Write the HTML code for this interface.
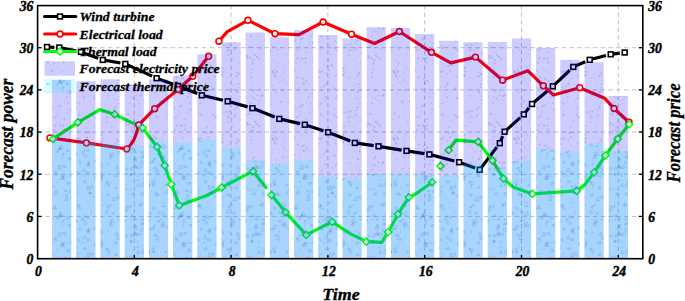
<!DOCTYPE html>
<html><head><meta charset="utf-8"><style>html,body{margin:0;padding:0;background:#fff;overflow:hidden}svg{display:block}text{font-family:"Liberation Serif",serif}</style></head>
<body><svg width="685" height="301" viewBox="0 0 685 301">
<rect width="685" height="301" fill="#fff"/>
<g stroke="#c2c2c2" stroke-width="1" stroke-dasharray="4.4 3.15" stroke-dashoffset="0.6"><line x1="134.3" y1="5.6" x2="134.3" y2="258.7"/><line x1="231.1" y1="5.6" x2="231.1" y2="258.7"/><line x1="327.9" y1="5.6" x2="327.9" y2="258.7"/><line x1="424.7" y1="5.6" x2="424.7" y2="258.7"/><line x1="521.5" y1="5.6" x2="521.5" y2="258.7"/><line x1="618.3" y1="5.6" x2="618.3" y2="258.7"/></g>
<g stroke="#c2c2c2" stroke-width="1" stroke-dasharray="4.5 3.32"><line x1="37.6" y1="216.42" x2="642.8" y2="216.42" stroke-dashoffset="0"/><line x1="37.6" y1="174.24" x2="642.8" y2="174.24" stroke-dashoffset="0"/><line x1="37.6" y1="132.06" x2="642.8" y2="132.06" stroke-dashoffset="0"/><line x1="209.6" y1="89.88" x2="642.8" y2="89.88" stroke-dashoffset="7.78"/><line x1="37.6" y1="47.7" x2="642.8" y2="47.7" stroke-dashoffset="0"/></g>
<path d="M47 47L54.4 47.3M59.3 47.5L76.1 50.92M80.9 51.9L98.2 58.22M102.8 59.9L120.48 63.04M125.3 63.9L152.14 76.16M156.6 78.2L173.29 84.23M177.9 85.9L197.24 93.51M201.8 95.3L222.93 100.19M227.7 101.3L247.68 106.88M252.4 108.2L274.75 117.09M279.3 118.9L300.02 123.61M304.8 124.7L323.44 130.78M328.1 132.3L350.25 141.09M354.8 142.9L373.65 145.6M378.5 146.3L401.66 150.11M406.5 150.9L424.56 153.66M429.4 154.4L454.36 160.96M459.1 162.2L475.1 168.1M479.7 169.8L496.85 147.11M499.8 143.2L502.71 136.22M504.6 131.7L520.16 117.68M523.8 114.4L528.97 107.85M532 104L549.07 89.48M552.8 86.3L569.74 70.27M573.3 66.9L585.2 61.75M589.7 59.8L605.96 55.54M610.7 54.3L619.84 53.12" fill="none" stroke="#000" stroke-width="3.2" stroke-linecap="butt" stroke-linejoin="round"/>

<polyline points="50,137.9 86.4,142.9 126.8,149 130.5,145 134,139.5 136.5,133 138.7,124.9 154.7,108.7 177.9,89.5 192.8,76.3 208.6,56.3" fill="none" stroke="#ff0000" stroke-width="3.2" stroke-linejoin="round" stroke-linecap="round"/>

<polyline points="218.9,41.2 227.3,31.6 247.9,20.3 275,33.7 299,34.6 323.1,22 351.5,34.2 374.5,43.5 399.4,31.5 431.5,52.3 450.8,62.9 475.5,57.1 502.6,80.2 527.8,70.7 543.3,85.8 553.5,95 579.7,87.7 604.7,98.3 614.1,108.5 629,122.2" fill="none" stroke="#ff0000" stroke-width="3.2" stroke-linejoin="round" stroke-linecap="round"/>

<polyline points="53,138.9 77.9,122.3 99.8,109.6 114.7,114.4 142.6,127.9 157,146.9 164.7,165.5 171.3,184.3 179.3,205.4 206.8,195.5 221.7,187.5 253.1,171.2 266.1,187.7" fill="none" stroke="#00ff00" stroke-width="3.2" stroke-linejoin="round" stroke-linecap="round"/>

<polyline points="271.6,195 285.6,212.3 306.3,234.9 332.2,221.8 350.5,233.9 366.3,241.6 381.7,242.3 388.2,232.1 397.9,214.2 408.8,197.3 414.8,194.5 432.2,182.3" fill="none" stroke="#00ff00" stroke-width="3.2" stroke-linejoin="round" stroke-linecap="round"/>

<polyline points="448.6,150.2 455.8,140.2 478.2,141.9 492.4,160.5 503.5,178.5 512.9,186.9 532.4,193.9 576.7,190.9 584.7,184.9 594.2,172.3 605.3,155.5 617.7,138.9 629,124.3" fill="none" stroke="#00ff00" stroke-width="3.2" stroke-linejoin="round" stroke-linecap="round"/>

<rect x="44.6" y="44.6" width="4.8" height="4.8" fill="#fff" stroke="#000" stroke-width="1.6"/><rect x="56.9" y="45.1" width="4.8" height="4.8" fill="#fff" stroke="#000" stroke-width="1.6"/><rect x="78.5" y="49.5" width="4.8" height="4.8" fill="#fff" stroke="#000" stroke-width="1.6"/><rect x="100.4" y="57.5" width="4.8" height="4.8" fill="#fff" stroke="#000" stroke-width="1.6"/><rect x="122.9" y="61.5" width="4.8" height="4.8" fill="#fff" stroke="#000" stroke-width="1.6"/><rect x="154.2" y="75.8" width="4.8" height="4.8" fill="#fff" stroke="#000" stroke-width="1.6"/><rect x="175.5" y="83.5" width="4.8" height="4.8" fill="#fff" stroke="#000" stroke-width="1.6"/><rect x="199.4" y="92.9" width="4.8" height="4.8" fill="#fff" stroke="#000" stroke-width="1.6"/><rect x="225.3" y="98.9" width="4.8" height="4.8" fill="#fff" stroke="#000" stroke-width="1.6"/><rect x="250" y="105.8" width="4.8" height="4.8" fill="#fff" stroke="#000" stroke-width="1.6"/><rect x="276.9" y="116.5" width="4.8" height="4.8" fill="#fff" stroke="#000" stroke-width="1.6"/><rect x="302.4" y="122.3" width="4.8" height="4.8" fill="#fff" stroke="#000" stroke-width="1.6"/><rect x="325.7" y="129.9" width="4.8" height="4.8" fill="#fff" stroke="#000" stroke-width="1.6"/><rect x="352.4" y="140.5" width="4.8" height="4.8" fill="#fff" stroke="#000" stroke-width="1.6"/><rect x="376.1" y="143.9" width="4.8" height="4.8" fill="#fff" stroke="#000" stroke-width="1.6"/><rect x="404.1" y="148.5" width="4.8" height="4.8" fill="#fff" stroke="#000" stroke-width="1.6"/><rect x="427" y="152" width="4.8" height="4.8" fill="#fff" stroke="#000" stroke-width="1.6"/><rect x="456.7" y="159.8" width="4.8" height="4.8" fill="#fff" stroke="#000" stroke-width="1.6"/><rect x="477.3" y="167.4" width="4.8" height="4.8" fill="#fff" stroke="#000" stroke-width="1.6"/><rect x="497.4" y="140.8" width="4.8" height="4.8" fill="#fff" stroke="#000" stroke-width="1.6"/><rect x="502.2" y="129.3" width="4.8" height="4.8" fill="#fff" stroke="#000" stroke-width="1.6"/><rect x="521.4" y="112" width="4.8" height="4.8" fill="#fff" stroke="#000" stroke-width="1.6"/><rect x="529.6" y="101.6" width="4.8" height="4.8" fill="#fff" stroke="#000" stroke-width="1.6"/><rect x="550.4" y="83.9" width="4.8" height="4.8" fill="#fff" stroke="#000" stroke-width="1.6"/><rect x="570.9" y="64.5" width="4.8" height="4.8" fill="#fff" stroke="#000" stroke-width="1.6"/><rect x="587.3" y="57.4" width="4.8" height="4.8" fill="#fff" stroke="#000" stroke-width="1.6"/><rect x="608.3" y="51.9" width="4.8" height="4.8" fill="#fff" stroke="#000" stroke-width="1.6"/><rect x="622.3" y="50.1" width="4.8" height="4.8" fill="#fff" stroke="#000" stroke-width="1.6"/>
<circle cx="50" cy="137.9" r="2.9" fill="#fff" stroke="#f00" stroke-width="1.6"/><circle cx="86.4" cy="142.9" r="2.9" fill="#fff" stroke="#f00" stroke-width="1.6"/><circle cx="126.8" cy="149" r="2.9" fill="#fff" stroke="#f00" stroke-width="1.6"/><circle cx="138.7" cy="124.9" r="2.9" fill="#fff" stroke="#f00" stroke-width="1.6"/><circle cx="154.7" cy="108.7" r="2.9" fill="#fff" stroke="#f00" stroke-width="1.6"/><circle cx="177.9" cy="89.5" r="2.9" fill="#fff" stroke="#f00" stroke-width="1.6"/><circle cx="192.8" cy="76.3" r="2.9" fill="#fff" stroke="#f00" stroke-width="1.6"/><circle cx="208.6" cy="56.3" r="2.9" fill="#fff" stroke="#f00" stroke-width="1.6"/><circle cx="218.9" cy="41.2" r="2.9" fill="#fff" stroke="#f00" stroke-width="1.6"/><circle cx="247.9" cy="20.3" r="2.9" fill="#fff" stroke="#f00" stroke-width="1.6"/><circle cx="275" cy="33.7" r="2.9" fill="#fff" stroke="#f00" stroke-width="1.6"/><circle cx="323.1" cy="22" r="2.9" fill="#fff" stroke="#f00" stroke-width="1.6"/><circle cx="351.5" cy="34.2" r="2.9" fill="#fff" stroke="#f00" stroke-width="1.6"/><circle cx="399.4" cy="31.5" r="2.9" fill="#fff" stroke="#f00" stroke-width="1.6"/><circle cx="431.5" cy="52.3" r="2.9" fill="#fff" stroke="#f00" stroke-width="1.6"/><circle cx="475.5" cy="57.1" r="2.9" fill="#fff" stroke="#f00" stroke-width="1.6"/><circle cx="502.6" cy="80.2" r="2.9" fill="#fff" stroke="#f00" stroke-width="1.6"/><circle cx="543.3" cy="85.8" r="2.9" fill="#fff" stroke="#f00" stroke-width="1.6"/><circle cx="579.7" cy="87.7" r="2.9" fill="#fff" stroke="#f00" stroke-width="1.6"/><circle cx="614.1" cy="108.5" r="2.9" fill="#fff" stroke="#f00" stroke-width="1.6"/><circle cx="629" cy="122.2" r="2.9" fill="#fff" stroke="#f00" stroke-width="1.6"/>
<path d="M53 135.3L56.6 138.9L53 142.5L49.4 138.9Z" fill="#fff" stroke="#00ff00" stroke-width="1.5"/><path d="M77.9 118.7L81.5 122.3L77.9 125.9L74.3 122.3Z" fill="#fff" stroke="#00ff00" stroke-width="1.5"/><path d="M114.7 110.8L118.3 114.4L114.7 118L111.1 114.4Z" fill="#fff" stroke="#00ff00" stroke-width="1.5"/><path d="M142.6 124.3L146.2 127.9L142.6 131.5L139 127.9Z" fill="#fff" stroke="#00ff00" stroke-width="1.5"/><path d="M157 143.3L160.6 146.9L157 150.5L153.4 146.9Z" fill="#fff" stroke="#00ff00" stroke-width="1.5"/><path d="M164.7 161.9L168.3 165.5L164.7 169.1L161.1 165.5Z" fill="#fff" stroke="#00ff00" stroke-width="1.5"/><path d="M171.3 180.7L174.9 184.3L171.3 187.9L167.7 184.3Z" fill="#fff" stroke="#00ff00" stroke-width="1.5"/><path d="M179.3 201.8L182.9 205.4L179.3 209L175.7 205.4Z" fill="#fff" stroke="#00ff00" stroke-width="1.5"/><path d="M221.7 183.9L225.3 187.5L221.7 191.1L218.1 187.5Z" fill="#fff" stroke="#00ff00" stroke-width="1.5"/><path d="M253.1 167.6L256.7 171.2L253.1 174.8L249.5 171.2Z" fill="#fff" stroke="#00ff00" stroke-width="1.5"/><path d="M271.6 191.4L275.2 195L271.6 198.6L268 195Z" fill="#fff" stroke="#00ff00" stroke-width="1.5"/><path d="M285.6 208.7L289.2 212.3L285.6 215.9L282 212.3Z" fill="#fff" stroke="#00ff00" stroke-width="1.5"/><path d="M306.3 231.3L309.9 234.9L306.3 238.5L302.7 234.9Z" fill="#fff" stroke="#00ff00" stroke-width="1.5"/><path d="M332.2 218.2L335.8 221.8L332.2 225.4L328.6 221.8Z" fill="#fff" stroke="#00ff00" stroke-width="1.5"/><path d="M366.3 238L369.9 241.6L366.3 245.2L362.7 241.6Z" fill="#fff" stroke="#00ff00" stroke-width="1.5"/><path d="M388.2 228.5L391.8 232.1L388.2 235.7L384.6 232.1Z" fill="#fff" stroke="#00ff00" stroke-width="1.5"/><path d="M397.9 210.6L401.5 214.2L397.9 217.8L394.3 214.2Z" fill="#fff" stroke="#00ff00" stroke-width="1.5"/><path d="M408.8 193.7L412.4 197.3L408.8 200.9L405.2 197.3Z" fill="#fff" stroke="#00ff00" stroke-width="1.5"/><path d="M432.2 178.7L435.8 182.3L432.2 185.9L428.6 182.3Z" fill="#fff" stroke="#00ff00" stroke-width="1.5"/><path d="M440.5 162.4L444.1 166L440.5 169.6L436.9 166Z" fill="#fff" stroke="#00ff00" stroke-width="1.5"/><path d="M448.6 146.6L452.2 150.2L448.6 153.8L445 150.2Z" fill="#fff" stroke="#00ff00" stroke-width="1.5"/><path d="M478.2 138.3L481.8 141.9L478.2 145.5L474.6 141.9Z" fill="#fff" stroke="#00ff00" stroke-width="1.5"/><path d="M492.4 156.9L496 160.5L492.4 164.1L488.8 160.5Z" fill="#fff" stroke="#00ff00" stroke-width="1.5"/><path d="M503.5 174.9L507.1 178.5L503.5 182.1L499.9 178.5Z" fill="#fff" stroke="#00ff00" stroke-width="1.5"/><path d="M532.4 190.3L536 193.9L532.4 197.5L528.8 193.9Z" fill="#fff" stroke="#00ff00" stroke-width="1.5"/><path d="M576.7 187.3L580.3 190.9L576.7 194.5L573.1 190.9Z" fill="#fff" stroke="#00ff00" stroke-width="1.5"/><path d="M594.2 168.7L597.8 172.3L594.2 175.9L590.6 172.3Z" fill="#fff" stroke="#00ff00" stroke-width="1.5"/><path d="M605.3 151.9L608.9 155.5L605.3 159.1L601.7 155.5Z" fill="#fff" stroke="#00ff00" stroke-width="1.5"/><path d="M617.7 135.3L621.3 138.9L617.7 142.5L614.1 138.9Z" fill="#fff" stroke="#00ff00" stroke-width="1.5"/><path d="M629 120.7L632.6 124.3L629 127.9L625.4 124.3Z" fill="#fff" stroke="#00ff00" stroke-width="1.5"/>
<g fill="#0000ff" fill-opacity="0.2"><rect x="52.1" y="80" width="19.2" height="178.7"/><rect x="76.3" y="81.2" width="19.2" height="177.5"/><rect x="100.5" y="79.3" width="19.2" height="179.4"/><rect x="124.7" y="84.2" width="19.2" height="174.5"/><rect x="148.9" y="79.4" width="19.2" height="179.3"/><rect x="173.1" y="75.4" width="19.2" height="183.3"/><rect x="197.3" y="54.3" width="19.2" height="204.4"/><rect x="221.5" y="42.3" width="19.2" height="216.4"/><rect x="245.7" y="32.5" width="19.2" height="226.2"/><rect x="269.9" y="37.3" width="19.2" height="221.4"/><rect x="294.1" y="30.2" width="19.2" height="228.5"/><rect x="318.3" y="35" width="19.2" height="223.7"/><rect x="342.5" y="38.5" width="19.2" height="220.2"/><rect x="366.7" y="27.2" width="19.2" height="231.5"/><rect x="390.9" y="28" width="19.2" height="230.7"/><rect x="415.1" y="34.1" width="19.2" height="224.6"/><rect x="439.3" y="40.8" width="19.2" height="217.9"/><rect x="463.5" y="42.3" width="19.2" height="216.4"/><rect x="487.7" y="41.9" width="19.2" height="216.8"/><rect x="511.9" y="38.5" width="19.2" height="220.2"/><rect x="536.1" y="47.9" width="19.2" height="210.8"/><rect x="560.3" y="59.9" width="19.2" height="198.8"/><rect x="584.5" y="62.3" width="19.2" height="196.4"/><rect x="608.7" y="96" width="19.2" height="162.7"/></g>
<g fill="#00ffff" fill-opacity="0.18"><rect x="52.1" y="141.8" width="19.2" height="116.9"/><rect x="76.3" y="142.7" width="19.2" height="116"/><rect x="100.5" y="144" width="19.2" height="114.7"/><rect x="124.7" y="146" width="19.2" height="112.7"/><rect x="148.9" y="141.5" width="19.2" height="117.2"/><rect x="173.1" y="142.9" width="19.2" height="115.8"/><rect x="197.3" y="140" width="19.2" height="118.7"/><rect x="221.5" y="147.9" width="19.2" height="110.8"/><rect x="245.7" y="160.5" width="19.2" height="98.2"/><rect x="269.9" y="163.9" width="19.2" height="94.8"/><rect x="294.1" y="159.9" width="19.2" height="98.8"/><rect x="318.3" y="176.8" width="19.2" height="81.9"/><rect x="342.5" y="178" width="19.2" height="80.7"/><rect x="366.7" y="174" width="19.2" height="84.7"/><rect x="390.9" y="174" width="19.2" height="84.7"/><rect x="415.1" y="174.5" width="19.2" height="84.2"/><rect x="439.3" y="174.9" width="19.2" height="83.8"/><rect x="463.5" y="163.6" width="19.2" height="95.1"/><rect x="487.7" y="167.5" width="19.2" height="91.2"/><rect x="511.9" y="161" width="19.2" height="97.7"/><rect x="536.1" y="149.3" width="19.2" height="109.4"/><rect x="560.3" y="151.5" width="19.2" height="107.2"/><rect x="584.5" y="143.3" width="19.2" height="115.4"/><rect x="608.7" y="150.9" width="19.2" height="107.8"/></g>
<defs><pattern id="pd" patternUnits="userSpaceOnUse" width="121" height="67"><g fill="#5050b0" fill-opacity="0.22"><circle cx="39.2" cy="10.1" r="0.6"/><circle cx="8.8" cy="35.9" r="0.9"/><circle cx="70.5" cy="61.0" r="0.7"/><circle cx="4.5" cy="29.1" r="0.6"/><circle cx="29.1" cy="36.9" r="0.6"/><circle cx="100.0" cy="8.3" r="0.7"/><circle cx="76.3" cy="39.1" r="0.6"/><circle cx="69.8" cy="26.6" r="0.7"/><circle cx="5.6" cy="57.5" r="0.9"/><circle cx="50.7" cy="36.2" r="0.9"/><circle cx="67.8" cy="45.7" r="0.6"/><circle cx="70.4" cy="42.8" r="0.9"/><circle cx="11.8" cy="47.7" r="0.6"/><circle cx="74.9" cy="33.3" r="1.1"/><circle cx="94.0" cy="31.2" r="1.1"/><circle cx="43.8" cy="16.6" r="0.7"/><circle cx="84.6" cy="16.4" r="0.9"/><circle cx="63.5" cy="58.6" r="1.1"/><circle cx="34.8" cy="65.7" r="0.6"/><circle cx="61.9" cy="11.1" r="0.9"/><circle cx="18.4" cy="32.8" r="0.6"/><circle cx="116.4" cy="5.2" r="0.9"/><circle cx="41.2" cy="23.5" r="1.1"/><circle cx="70.2" cy="30.6" r="0.6"/><circle cx="114.3" cy="31.8" r="0.6"/><circle cx="7.3" cy="47.0" r="1.1"/><circle cx="34.4" cy="25.8" r="0.9"/><circle cx="2.7" cy="30.9" r="0.7"/><circle cx="73.9" cy="33.1" r="0.7"/><circle cx="93.0" cy="8.7" r="0.7"/><circle cx="48.1" cy="61.4" r="1.1"/><circle cx="9.8" cy="30.1" r="0.9"/><circle cx="106.9" cy="54.9" r="0.9"/><circle cx="85.5" cy="66.1" r="1.1"/><circle cx="115.9" cy="10.1" r="0.7"/><circle cx="18.3" cy="44.1" r="0.6"/><circle cx="58.7" cy="39.5" r="0.9"/><circle cx="34.1" cy="9.8" r="0.9"/><circle cx="73.8" cy="21.3" r="0.7"/><circle cx="83.5" cy="34.5" r="0.6"/><circle cx="55.3" cy="58.4" r="1.1"/><circle cx="48.2" cy="26.4" r="1.1"/><circle cx="76.7" cy="4.2" r="0.6"/><circle cx="119.1" cy="29.5" r="0.6"/><circle cx="41.1" cy="3.5" r="0.6"/><circle cx="68.6" cy="36.0" r="0.9"/><circle cx="74.3" cy="4.7" r="0.7"/><circle cx="74.3" cy="10.0" r="0.9"/><circle cx="115.6" cy="40.4" r="1.1"/><circle cx="14.9" cy="56.9" r="1.1"/><circle cx="58.1" cy="20.9" r="0.7"/><circle cx="12.4" cy="23.0" r="0.9"/><circle cx="57.9" cy="46.4" r="0.6"/><circle cx="24.8" cy="63.8" r="0.9"/><circle cx="17.7" cy="36.4" r="0.6"/><circle cx="91.7" cy="20.0" r="0.6"/><circle cx="84.2" cy="17.5" r="0.9"/><circle cx="109.9" cy="23.8" r="0.7"/><circle cx="64.4" cy="52.2" r="0.9"/><circle cx="77.0" cy="41.1" r="0.7"/><circle cx="97.5" cy="54.8" r="0.7"/><circle cx="24.2" cy="33.0" r="0.6"/><circle cx="119.7" cy="52.9" r="1.1"/><circle cx="31.4" cy="46.4" r="0.9"/><circle cx="54.1" cy="62.8" r="0.9"/><circle cx="115.6" cy="24.4" r="0.7"/><circle cx="12.4" cy="31.5" r="0.9"/><circle cx="24.7" cy="41.8" r="0.6"/><circle cx="58.0" cy="43.7" r="0.6"/><circle cx="101.0" cy="8.0" r="1.1"/><circle cx="94.7" cy="50.3" r="1.1"/><circle cx="107.6" cy="29.1" r="0.9"/><circle cx="10.5" cy="63.4" r="1.1"/><circle cx="56.0" cy="49.8" r="0.6"/><circle cx="87.7" cy="11.4" r="0.7"/><circle cx="3.3" cy="39.6" r="1.1"/><circle cx="97.6" cy="9.8" r="1.1"/><circle cx="79.5" cy="23.5" r="0.7"/><circle cx="2.6" cy="53.6" r="0.6"/><circle cx="63.7" cy="62.6" r="1.1"/><circle cx="119.4" cy="13.1" r="0.7"/><circle cx="3.4" cy="14.3" r="0.7"/><circle cx="92.4" cy="21.8" r="1.1"/><circle cx="100.9" cy="4.1" r="0.9"/><circle cx="108.6" cy="44.4" r="1.1"/><circle cx="100.1" cy="58.8" r="0.7"/><circle cx="64.4" cy="35.1" r="0.6"/><circle cx="105.6" cy="52.0" r="0.6"/><circle cx="93.9" cy="10.0" r="0.7"/><circle cx="57.3" cy="48.6" r="0.6"/><circle cx="39.4" cy="34.7" r="1.1"/><circle cx="94.9" cy="7.1" r="0.6"/><circle cx="30.1" cy="18.6" r="0.6"/><circle cx="61.4" cy="37.6" r="0.6"/><circle cx="53.6" cy="41.0" r="0.7"/><circle cx="83.8" cy="30.3" r="1.1"/><circle cx="61.4" cy="16.6" r="0.9"/><circle cx="111.7" cy="59.8" r="0.7"/><circle cx="101.6" cy="9.2" r="0.6"/><circle cx="47.5" cy="21.2" r="0.7"/><circle cx="51.8" cy="14.3" r="0.9"/><circle cx="94.9" cy="60.1" r="0.7"/><circle cx="113.7" cy="43.1" r="0.9"/><circle cx="17.3" cy="59.1" r="1.1"/><circle cx="26.6" cy="63.8" r="1.1"/><circle cx="107.1" cy="10.9" r="0.7"/><circle cx="19.5" cy="28.9" r="1.1"/><circle cx="41.0" cy="13.1" r="0.9"/><circle cx="11.2" cy="24.5" r="0.9"/><circle cx="67.0" cy="29.5" r="0.6"/><circle cx="46.5" cy="34.7" r="0.9"/><circle cx="62.0" cy="4.3" r="0.7"/><circle cx="117.6" cy="7.0" r="0.9"/><circle cx="32.9" cy="60.7" r="0.7"/><circle cx="32.7" cy="8.7" r="1.1"/><circle cx="102.8" cy="45.3" r="0.9"/><circle cx="49.1" cy="36.0" r="1.1"/><circle cx="84.8" cy="6.0" r="0.6"/><circle cx="96.8" cy="12.3" r="0.6"/><circle cx="32.5" cy="1.1" r="0.6"/><circle cx="97.0" cy="5.6" r="0.7"/><circle cx="8.1" cy="57.8" r="1.1"/><circle cx="1.4" cy="66.6" r="1.1"/><circle cx="112.1" cy="17.9" r="0.7"/><circle cx="5.2" cy="47.5" r="0.6"/><circle cx="117.3" cy="17.5" r="0.7"/><circle cx="24.4" cy="20.9" r="0.9"/><circle cx="64.3" cy="13.8" r="1.1"/><circle cx="60.5" cy="11.9" r="0.9"/><circle cx="97.2" cy="66.6" r="0.6"/><circle cx="1.9" cy="49.1" r="0.7"/><circle cx="62.2" cy="16.5" r="1.1"/><circle cx="12.9" cy="54.9" r="1.1"/><circle cx="79.4" cy="36.6" r="1.1"/><circle cx="117.4" cy="20.6" r="0.7"/><circle cx="118.9" cy="23.0" r="0.7"/><circle cx="49.0" cy="23.3" r="0.6"/><circle cx="101.3" cy="1.0" r="0.9"/><circle cx="52.1" cy="3.7" r="1.1"/><circle cx="105.3" cy="44.9" r="0.9"/><circle cx="72.5" cy="46.4" r="0.6"/><circle cx="55.6" cy="10.6" r="1.1"/><circle cx="0.4" cy="24.4" r="0.9"/><circle cx="117.7" cy="36.7" r="0.7"/><circle cx="4.2" cy="59.1" r="0.7"/><circle cx="43.1" cy="0.1" r="1.1"/><circle cx="10.2" cy="18.7" r="0.7"/><circle cx="30.0" cy="52.0" r="0.6"/><circle cx="32.0" cy="6.0" r="1.1"/><circle cx="71.0" cy="26.4" r="0.9"/><circle cx="36.8" cy="15.6" r="0.7"/><circle cx="79.6" cy="48.0" r="1.1"/><circle cx="92.5" cy="48.3" r="1.1"/><circle cx="18.1" cy="48.5" r="0.7"/><circle cx="5.3" cy="56.0" r="1.1"/><circle cx="88.8" cy="54.4" r="0.7"/><circle cx="110.1" cy="50.4" r="0.6"/><circle cx="100.0" cy="39.1" r="0.7"/><circle cx="10.3" cy="2.8" r="0.9"/><circle cx="116.1" cy="25.2" r="1.1"/><circle cx="67.6" cy="42.1" r="0.7"/><circle cx="59.2" cy="0.2" r="0.6"/><circle cx="90.5" cy="33.7" r="0.6"/><circle cx="79.8" cy="4.4" r="1.1"/><circle cx="30.5" cy="5.0" r="0.9"/><circle cx="28.4" cy="50.7" r="0.7"/><circle cx="89.5" cy="65.4" r="1.1"/><circle cx="102.3" cy="5.1" r="0.9"/><circle cx="92.8" cy="41.3" r="0.7"/><circle cx="9.4" cy="9.9" r="0.9"/><circle cx="78.8" cy="46.4" r="0.7"/><circle cx="1.5" cy="4.1" r="0.9"/><circle cx="117.7" cy="6.7" r="0.7"/><circle cx="81.8" cy="19.5" r="0.9"/><circle cx="56.2" cy="31.2" r="0.6"/><circle cx="120.2" cy="36.8" r="0.9"/><circle cx="118.4" cy="62.7" r="0.6"/><circle cx="35.0" cy="5.1" r="1.1"/><circle cx="120.3" cy="25.9" r="0.7"/><circle cx="9.0" cy="6.1" r="0.9"/><circle cx="115.3" cy="8.9" r="0.9"/><circle cx="107.3" cy="47.1" r="0.7"/><circle cx="60.2" cy="58.7" r="1.1"/><circle cx="3.0" cy="0.2" r="1.1"/><circle cx="82.5" cy="27.2" r="0.7"/><circle cx="50.4" cy="25.2" r="0.6"/><circle cx="101.7" cy="0.1" r="0.9"/><circle cx="101.5" cy="8.0" r="0.7"/><circle cx="86.3" cy="60.4" r="0.9"/><circle cx="30.6" cy="4.4" r="1.1"/><circle cx="120.9" cy="39.5" r="0.9"/><circle cx="112.0" cy="50.6" r="0.6"/><circle cx="34.0" cy="3.5" r="0.9"/><circle cx="76.8" cy="10.0" r="0.9"/><circle cx="52.8" cy="21.1" r="0.9"/><circle cx="95.0" cy="28.7" r="0.6"/><circle cx="98.2" cy="42.3" r="0.7"/><circle cx="87.1" cy="3.3" r="1.1"/><circle cx="54.6" cy="50.4" r="0.9"/><circle cx="58.8" cy="61.1" r="0.7"/><circle cx="20.7" cy="27.8" r="0.9"/><circle cx="36.0" cy="49.5" r="0.9"/><circle cx="49.2" cy="16.0" r="1.1"/><circle cx="67.4" cy="26.4" r="0.7"/><circle cx="77.8" cy="5.0" r="1.1"/><circle cx="66.6" cy="30.4" r="0.9"/><circle cx="120.6" cy="30.1" r="0.7"/><circle cx="66.3" cy="16.4" r="0.7"/><circle cx="41.4" cy="6.1" r="0.7"/><circle cx="44.6" cy="54.2" r="0.7"/><circle cx="107.4" cy="50.2" r="1.1"/><circle cx="46.3" cy="50.0" r="0.7"/><circle cx="45.6" cy="22.7" r="0.6"/><circle cx="60.3" cy="38.5" r="0.9"/><circle cx="15.2" cy="33.7" r="0.7"/><circle cx="11.2" cy="60.1" r="1.1"/><circle cx="48.4" cy="29.9" r="0.9"/><circle cx="102.7" cy="58.5" r="0.6"/><circle cx="15.4" cy="28.5" r="1.1"/><circle cx="117.2" cy="32.8" r="0.6"/><circle cx="47.4" cy="62.1" r="1.1"/><circle cx="117.6" cy="16.6" r="0.6"/><circle cx="27.1" cy="10.2" r="0.6"/><circle cx="113.9" cy="48.4" r="1.1"/><circle cx="10.3" cy="52.0" r="0.6"/><circle cx="94.7" cy="15.6" r="0.6"/><circle cx="78.1" cy="20.4" r="0.7"/><circle cx="75.8" cy="35.4" r="1.1"/><circle cx="84.5" cy="7.5" r="0.6"/><circle cx="36.3" cy="63.2" r="0.7"/></g></pattern><pattern id="pc" patternUnits="userSpaceOnUse" width="121" height="67"><g fill="none" stroke="#3070b0" stroke-opacity="0.3" stroke-width="0.7"><path d="M47.4 16.1v2.2"/><rect x="64.9" y="64.8" width="2.9" height="2.0" transform="rotate(-9 64.9 64.8)"/><path d="M57.6 15.7l1.1 2.3h-2.3z"/><circle cx="50.2" cy="42.9" r="0.9"/><path d="M60.3 44.5q1.2 -1.8 2.3 0"/><rect x="28.7" y="28.7" width="2.0" height="1.3" transform="rotate(-36 28.7 28.7)"/><rect x="83.4" y="47.3" width="2.6" height="1.7" transform="rotate(-15 83.4 47.3)"/><path d="M2.8 20.4v2.3"/><path d="M60.0 13.3l1.3 2.6h-2.6z"/><rect x="27.9" y="49.9" width="1.8" height="1.2" transform="rotate(39 27.9 49.9)"/><path d="M60.0 12.3l1.5 3.1h-3.1z"/><path d="M108.5 5.6v2.5"/><path d="M48.0 15.4v2.5"/><path d="M8.1 5.8q1.5 -2.3 3.0 0"/><circle cx="85.3" cy="21.8" r="1.6"/><path d="M111.0 21.1l1.7 3.4h-3.4z"/><rect x="63.4" y="31.5" width="2.5" height="1.7" transform="rotate(8 63.4 31.5)"/><path d="M100.2 64.1q1.3 -1.9 2.5 0"/><rect x="2.3" y="19.6" width="2.2" height="1.5" transform="rotate(-25 2.3 19.6)"/><path d="M67.7 49.8q1.4 -2.1 2.8 0"/><path d="M98.1 53.8q1.2 -1.8 2.4 0"/><path d="M84.5 14.3v3.9"/><path d="M24.6 24.9q1.1 -1.7 2.3 0"/><path d="M50.1 53.1q1.1 -1.7 2.3 0"/><circle cx="6.1" cy="5.9" r="1.1"/><rect x="89.4" y="58.6" width="2.1" height="1.4" transform="rotate(2 89.4 58.6)"/><rect x="114.0" y="40.9" width="2.7" height="1.8" transform="rotate(0 114.0 40.9)"/><path d="M110.1 20.7v3.8"/><circle cx="76.2" cy="61.4" r="1.5"/><path d="M14.5 47.1q2.0 -2.9 3.9 0"/><path d="M47.2 17.8q1.8 -2.7 3.7 0"/><circle cx="17.5" cy="33.3" r="1.5"/><path d="M88.4 52.2l1.6 3.3h-3.3z"/><rect x="40.4" y="22.1" width="2.7" height="1.8" transform="rotate(36 40.4 22.1)"/><path d="M11.2 13.1l1.3 2.6h-2.6z"/><path d="M9.6 4.1v3.2"/><circle cx="20.8" cy="28.9" r="1.6"/><circle cx="33.0" cy="7.3" r="1.2"/><path d="M117.6 61.9l1.3 2.6h-2.6z"/><path d="M50.8 39.3l1.8 3.5h-3.5z"/><circle cx="101.1" cy="43.9" r="1.4"/><rect x="36.4" y="19.6" width="2.2" height="1.4" transform="rotate(-7 36.4 19.6)"/><path d="M25.3 16.3l1.3 2.6h-2.6z"/><path d="M34.9 57.8l1.4 2.8h-2.8z"/><path d="M48.3 64.5v3.1"/><path d="M78.0 8.3q2.0 -3.0 4.0 0"/><path d="M14.0 30.1l1.9 3.7h-3.7z"/><rect x="109.0" y="4.5" width="2.0" height="1.3" transform="rotate(-34 109.0 4.5)"/><path d="M24.2 63.3v2.5"/><path d="M10.8 32.8l1.5 3.0h-3.0z"/><circle cx="32.4" cy="51.0" r="1.0"/><path d="M71.7 39.9l1.1 2.3h-2.3z"/><rect x="41.8" y="4.8" width="1.7" height="1.1" transform="rotate(-14 41.8 4.8)"/><path d="M97.3 53.6q1.7 -2.6 3.4 0"/><path d="M23.7 20.5l1.1 2.3h-2.3z"/><path d="M60.0 32.5q1.2 -1.8 2.4 0"/><path d="M48.2 36.7v2.4"/><path d="M21.2 45.8q2.0 -3.0 4.0 0"/><circle cx="80.1" cy="28.3" r="1.1"/><path d="M68.3 24.5q1.1 -1.7 2.2 0"/><path d="M91.7 51.1l1.5 2.9h-2.9z"/><path d="M49.4 61.3q1.9 -2.9 3.8 0"/><path d="M51.6 53.7q1.6 -2.4 3.2 0"/><path d="M44.7 49.6l1.1 2.2h-2.2z"/><path d="M66.5 42.4q1.2 -1.8 2.4 0"/><path d="M74.8 25.4v2.5"/><path d="M42.7 10.3l1.9 3.9h-3.9z"/><path d="M14.7 31.5l1.4 2.7h-2.7z"/><path d="M100.0 4.7q1.4 -2.1 2.8 0"/><circle cx="73.1" cy="42.1" r="1.5"/><path d="M74.6 52.3l1.7 3.4h-3.4z"/><path d="M102.2 41.1v3.7"/><path d="M99.0 12.4l1.1 2.3h-2.3z"/><rect x="111.8" y="11.9" width="1.8" height="1.2" transform="rotate(-9 111.8 11.9)"/><path d="M115.6 52.2l1.1 2.3h-2.3z"/><circle cx="67.8" cy="49.7" r="1.4"/><path d="M39.9 26.6q1.6 -2.4 3.2 0"/><path d="M75.4 21.3q1.4 -2.1 2.8 0"/><rect x="31.2" y="26.5" width="2.3" height="1.5" transform="rotate(16 31.2 26.5)"/><path d="M22.9 2.2q1.5 -2.3 3.0 0"/><path d="M54.3 41.0q1.9 -2.8 3.7 0"/><circle cx="96.8" cy="27.2" r="1.0"/><path d="M52.4 7.8q1.6 -2.3 3.1 0"/><path d="M78.9 3.4l1.2 2.3h-2.3z"/><path d="M87.8 51.0v2.3"/><path d="M90.0 57.3l1.1 2.2h-2.2z"/><circle cx="9.8" cy="40.7" r="1.0"/><path d="M116.9 31.3l1.7 3.4h-3.4z"/><rect x="86.4" y="15.9" width="2.5" height="1.6" transform="rotate(-8 86.4 15.9)"/><rect x="20.6" y="58.5" width="2.9" height="1.9" transform="rotate(18 20.6 58.5)"/><path d="M18.8 33.6q1.3 -1.9 2.6 0"/><rect x="32.8" y="33.9" width="2.2" height="1.4" transform="rotate(-15 32.8 33.9)"/><rect x="23.3" y="12.2" width="2.6" height="1.7" transform="rotate(8 23.3 12.2)"/><circle cx="21.7" cy="51.4" r="1.4"/><path d="M7.7 56.1q1.6 -2.4 3.2 0"/><circle cx="69.9" cy="57.6" r="1.1"/><rect x="64.7" y="56.0" width="2.0" height="1.3" transform="rotate(7 64.7 56.0)"/><circle cx="69.6" cy="24.7" r="1.2"/><circle cx="22.7" cy="48.8" r="1.1"/><path d="M62.4 21.5v3.9"/><circle cx="106.8" cy="48.2" r="1.0"/><path d="M36.0 41.4q1.6 -2.3 3.1 0"/><path d="M106.8 8.7l1.7 3.3h-3.3z"/><path d="M7.3 5.4v2.8"/><path d="M14.4 23.0l1.5 2.9h-2.9z"/><rect x="37.2" y="10.4" width="2.5" height="1.7" transform="rotate(20 37.2 10.4)"/><path d="M20.6 1.2l1.7 3.5h-3.5z"/><path d="M54.7 4.1l1.9 3.8h-3.8z"/><rect x="93.5" y="27.3" width="3.0" height="2.0" transform="rotate(-33 93.5 27.3)"/><rect x="77.5" y="37.4" width="2.5" height="1.6" transform="rotate(34 77.5 37.4)"/><path d="M53.9 61.0q1.3 -2.0 2.6 0"/><path d="M107.7 4.8v2.2"/><circle cx="23.7" cy="12.0" r="0.9"/><path d="M66.5 59.8l1.5 2.9h-2.9z"/><path d="M62.6 42.5q1.8 -2.7 3.7 0"/><rect x="22.4" y="21.5" width="2.5" height="1.7" transform="rotate(21 22.4 21.5)"/><path d="M85.7 2.4q1.8 -2.7 3.5 0"/><path d="M56.4 48.7q1.3 -1.9 2.5 0"/><circle cx="118.6" cy="18.5" r="1.0"/><rect x="106.3" y="60.3" width="2.6" height="1.7" transform="rotate(-6 106.3 60.3)"/><path d="M76.4 44.8v3.9"/><path d="M36.6 59.3l1.2 2.4h-2.4z"/><path d="M61.4 10.8l1.9 3.7h-3.7z"/><rect x="25.7" y="12.0" width="1.9" height="1.3" transform="rotate(9 25.7 12.0)"/><path d="M40.4 17.1v3.0"/><circle cx="100.2" cy="45.9" r="1.2"/><rect x="86.8" y="37.9" width="2.7" height="1.8" transform="rotate(10 86.8 37.9)"/><path d="M74.8 5.7l1.2 2.5h-2.5z"/><path d="M5.1 7.3l1.4 2.8h-2.8z"/><circle cx="18.6" cy="3.8" r="1.0"/><circle cx="77.3" cy="4.7" r="1.4"/><rect x="9.7" y="39.2" width="1.9" height="1.3" transform="rotate(28 9.7 39.2)"/><path d="M106.3 6.2q1.2 -1.8 2.4 0"/><circle cx="26.1" cy="9.1" r="1.6"/><circle cx="108.6" cy="49.5" r="1.5"/><circle cx="75.9" cy="20.1" r="1.0"/><rect x="94.7" y="42.7" width="2.1" height="1.4" transform="rotate(14 94.7 42.7)"/><rect x="32.6" y="24.1" width="1.7" height="1.1" transform="rotate(7 32.6 24.1)"/><path d="M108.5 50.5v3.1"/><circle cx="101.6" cy="41.0" r="1.4"/><circle cx="5.7" cy="34.7" r="1.1"/><path d="M84.4 34.1l1.7 3.5h-3.5z"/><rect x="98.9" y="38.2" width="1.9" height="1.3" transform="rotate(-40 98.9 38.2)"/><circle cx="63.3" cy="20.2" r="0.9"/><path d="M59.4 31.0l2.0 3.9h-3.9z"/><path d="M71.3 62.3v2.7"/><path d="M112.4 17.9l1.9 3.9h-3.9z"/><circle cx="29.1" cy="12.4" r="1.2"/><circle cx="118.0" cy="37.4" r="1.3"/><path d="M43.6 27.3q1.9 -2.9 3.8 0"/><circle cx="89.2" cy="28.6" r="1.1"/><path d="M37.5 29.0v3.1"/><path d="M46.4 55.7l1.9 3.9h-3.9z"/><path d="M16.8 39.4v3.4"/><path d="M42.8 20.7l1.9 3.8h-3.8z"/><rect x="54.7" y="36.9" width="1.9" height="1.3" transform="rotate(16 54.7 36.9)"/><path d="M82.6 17.0l1.2 2.4h-2.4z"/><path d="M56.1 56.2l1.6 3.1h-3.1z"/><path d="M33.3 49.5v2.5"/><rect x="20.3" y="17.6" width="2.5" height="1.6" transform="rotate(4 20.3 17.6)"/><path d="M20.8 21.3l1.3 2.7h-2.7z"/><path d="M113.7 62.7l2.0 3.9h-3.9z"/><path d="M13.9 24.4l1.8 3.6h-3.6z"/><path d="M87.8 28.2l1.2 2.4h-2.4z"/><path d="M108.6 19.7q1.5 -2.3 3.0 0"/><path d="M3.5 55.8q1.7 -2.6 3.4 0"/><path d="M60.6 41.8q1.1 -1.7 2.2 0"/><circle cx="32.1" cy="48.5" r="1.4"/><path d="M108.2 29.1v3.3"/><path d="M77.7 55.3v3.7"/><path d="M81.5 42.4q1.5 -2.2 3.0 0"/><path d="M32.4 46.1q1.3 -2.0 2.6 0"/><path d="M48.8 45.6l1.3 2.7h-2.7z"/><path d="M51.6 30.7v3.7"/><path d="M62.6 41.7l1.9 3.8h-3.8z"/><path d="M40.4 2.7q1.9 -2.9 3.8 0"/><path d="M14.4 16.6l1.2 2.5h-2.5z"/><path d="M93.5 61.3v2.8"/><path d="M101.1 29.0l1.7 3.5h-3.5z"/><rect x="61.9" y="42.3" width="2.4" height="1.6" transform="rotate(12 61.9 42.3)"/><path d="M88.8 29.3l1.5 2.9h-2.9z"/><path d="M91.2 9.7v2.8"/><path d="M8.6 19.3q1.2 -1.7 2.3 0"/><rect x="10.8" y="59.7" width="2.4" height="1.6" transform="rotate(-27 10.8 59.7)"/><path d="M28.3 48.7v3.9"/><path d="M118.3 62.5q1.3 -1.9 2.6 0"/><path d="M17.1 49.4l1.5 3.0h-3.0z"/><path d="M67.8 14.8l1.4 2.8h-2.8z"/><path d="M76.7 53.6q1.5 -2.3 3.0 0"/><path d="M36.4 34.7l1.8 3.6h-3.6z"/></g></pattern></defs>
<g fill="url(#pd)"><rect x="52.1" y="80" width="19.2" height="61.8"/><rect x="76.3" y="81.2" width="19.2" height="61.5"/><rect x="100.5" y="79.3" width="19.2" height="64.7"/><rect x="124.7" y="84.2" width="19.2" height="61.8"/><rect x="148.9" y="79.4" width="19.2" height="62.1"/><rect x="173.1" y="75.4" width="19.2" height="67.5"/><rect x="197.3" y="54.3" width="19.2" height="85.7"/><rect x="221.5" y="42.3" width="19.2" height="105.6"/><rect x="245.7" y="32.5" width="19.2" height="128"/><rect x="269.9" y="37.3" width="19.2" height="126.6"/><rect x="294.1" y="30.2" width="19.2" height="129.7"/><rect x="318.3" y="35" width="19.2" height="141.8"/><rect x="342.5" y="38.5" width="19.2" height="139.5"/><rect x="366.7" y="27.2" width="19.2" height="146.8"/><rect x="390.9" y="28" width="19.2" height="146"/><rect x="415.1" y="34.1" width="19.2" height="140.4"/><rect x="439.3" y="40.8" width="19.2" height="134.1"/><rect x="463.5" y="42.3" width="19.2" height="121.3"/><rect x="487.7" y="41.9" width="19.2" height="125.6"/><rect x="511.9" y="38.5" width="19.2" height="122.5"/><rect x="536.1" y="47.9" width="19.2" height="101.4"/><rect x="560.3" y="59.9" width="19.2" height="91.6"/><rect x="584.5" y="62.3" width="19.2" height="81"/><rect x="608.7" y="96" width="19.2" height="54.9"/></g>
<g fill="url(#pc)"><rect x="52.1" y="141.8" width="19.2" height="116.9"/><rect x="76.3" y="142.7" width="19.2" height="116"/><rect x="100.5" y="144" width="19.2" height="114.7"/><rect x="124.7" y="146" width="19.2" height="112.7"/><rect x="148.9" y="141.5" width="19.2" height="117.2"/><rect x="173.1" y="142.9" width="19.2" height="115.8"/><rect x="197.3" y="140" width="19.2" height="118.7"/><rect x="221.5" y="147.9" width="19.2" height="110.8"/><rect x="245.7" y="160.5" width="19.2" height="98.2"/><rect x="269.9" y="163.9" width="19.2" height="94.8"/><rect x="294.1" y="159.9" width="19.2" height="98.8"/><rect x="318.3" y="176.8" width="19.2" height="81.9"/><rect x="342.5" y="178" width="19.2" height="80.7"/><rect x="366.7" y="174" width="19.2" height="84.7"/><rect x="390.9" y="174" width="19.2" height="84.7"/><rect x="415.1" y="174.5" width="19.2" height="84.2"/><rect x="439.3" y="174.9" width="19.2" height="83.8"/><rect x="463.5" y="163.6" width="19.2" height="95.1"/><rect x="487.7" y="167.5" width="19.2" height="91.2"/><rect x="511.9" y="161" width="19.2" height="97.7"/><rect x="536.1" y="149.3" width="19.2" height="109.4"/><rect x="560.3" y="151.5" width="19.2" height="107.2"/><rect x="584.5" y="143.3" width="19.2" height="115.4"/><rect x="608.7" y="150.9" width="19.2" height="107.8"/></g>
<g stroke="#000" stroke-width="1.3"><line x1="37.6" y1="216.42" x2="41.6" y2="216.42"/><line x1="642.8" y1="216.42" x2="638.8" y2="216.42"/><line x1="37.6" y1="174.24" x2="41.6" y2="174.24"/><line x1="642.8" y1="174.24" x2="638.8" y2="174.24"/><line x1="37.6" y1="132.06" x2="41.6" y2="132.06"/><line x1="642.8" y1="132.06" x2="638.8" y2="132.06"/><line x1="37.6" y1="89.88" x2="41.6" y2="89.88"/><line x1="642.8" y1="89.88" x2="638.8" y2="89.88"/><line x1="37.6" y1="47.7" x2="41.6" y2="47.7"/><line x1="642.8" y1="47.7" x2="638.8" y2="47.7"/><line x1="134.3" y1="258.7" x2="134.3" y2="255.1"/><line x1="231.1" y1="258.7" x2="231.1" y2="255.1"/><line x1="327.9" y1="258.7" x2="327.9" y2="255.1"/><line x1="424.7" y1="258.7" x2="424.7" y2="255.1"/><line x1="521.5" y1="258.7" x2="521.5" y2="255.1"/><line x1="618.3" y1="258.7" x2="618.3" y2="255.1"/></g>
<rect x="37.6" y="5.6" width="605.1999999999999" height="253.1" fill="none" stroke="#000" stroke-width="1.6"/>
<g font-family="Liberation Serif" font-weight="bold" font-style="italic" font-size="13.6" fill="#000" stroke="#000" stroke-width="0.45"><text x="33.4" y="264" text-anchor="end">0</text><text x="648.2" y="264">0</text><text x="33.4" y="221.82" text-anchor="end">6</text><text x="648.2" y="221.82">6</text><text x="33.4" y="179.64" text-anchor="end">12</text><text x="648.2" y="179.64">12</text><text x="33.4" y="137.46" text-anchor="end">18</text><text x="648.2" y="137.46">18</text><text x="33.4" y="95.28" text-anchor="end">24</text><text x="648.2" y="95.28">24</text><text x="33.4" y="53.1" text-anchor="end">30</text><text x="648.2" y="53.1">30</text><text x="33.4" y="10.92" text-anchor="end">36</text><text x="648.2" y="10.92">36</text><text x="38.5" y="275.5" text-anchor="middle">0</text><text x="135.3" y="275.5" text-anchor="middle">4</text><text x="232.1" y="275.5" text-anchor="middle">8</text><text x="328.9" y="275.5" text-anchor="middle">12</text><text x="425.7" y="275.5" text-anchor="middle">16</text><text x="522.5" y="275.5" text-anchor="middle">20</text><text x="619.3" y="275.5" text-anchor="middle">24</text></g>
<g font-family="Liberation Serif" font-weight="bold" font-style="italic" font-size="18" fill="#000" stroke="#000" stroke-width="0.35">
<text transform="translate(341,299.6) scale(1,0.95)" text-anchor="middle">Time</text>
<text transform="translate(13.3,134.1) rotate(-90) scale(0.97,1)" text-anchor="middle">Forecast power</text>
<text transform="translate(680.2,132.9) rotate(-90) scale(0.93,1)" text-anchor="middle">Forecast price</text>
</g>
<line x1="44.5" y1="16.5" x2="75.8" y2="16.5" stroke="#000" stroke-width="3" stroke-linecap="round"/><rect x="57.6" y="14.1" width="4.8" height="4.8" fill="#fff" stroke="#000" stroke-width="1.6"/><line x1="44.5" y1="34" x2="75.8" y2="34" stroke="#ff0000" stroke-width="3" stroke-linecap="round"/><circle cx="60" cy="34" r="2.9" fill="#fff" stroke="#f00" stroke-width="1.6"/><line x1="44.5" y1="51.4" x2="75.8" y2="51.4" stroke="#00ff00" stroke-width="3" stroke-linecap="round"/><path d="M60 47.8L63.6 51.4L60 55L56.4 51.4Z" fill="#fff" stroke="#00ff00" stroke-width="1.5"/><rect x="44.5" y="61.3" width="30.5" height="14.5" fill="#0000ff" fill-opacity="0.2"/><rect x="44.5" y="79.2" width="30.5" height="13.8" fill="#00ffff" fill-opacity="0.18"/><rect x="44.5" y="61.3" width="30.5" height="14.5" fill="url(#pd)"/><rect x="44.5" y="79.2" width="30.5" height="13.8" fill="url(#pc)"/>
<g font-family="Liberation Serif" font-weight="bold" font-style="italic" font-size="13.8" fill="#000" stroke="#000" stroke-width="0.3"><text transform="translate(79.6,21.0) scale(1,0.93)">Wind turbine</text><text transform="translate(79.6,38.5) scale(1,0.93)">Electrical load</text><text transform="translate(79.6,55.7) scale(1,0.93)">Thermal load</text><text transform="translate(79.6,73.1) scale(1,0.93)">Forecast electricity price</text><text transform="translate(79.6,90.5) scale(1,0.93)">Forecast thermal price</text></g>
</svg></body></html>
